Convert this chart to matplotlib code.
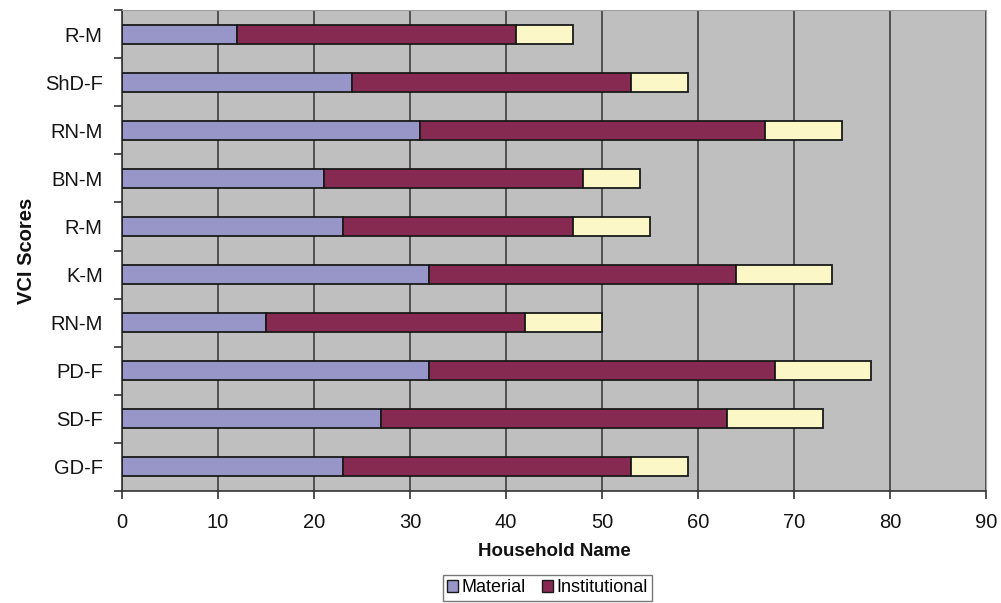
import numpy as np
import matplotlib.pyplot as plt
from matplotlib.patches import Patch

plt.rcParams['font.family'] = ['Liberation Sans', 'DejaVu Sans']

# households, listed from bottom to top as drawn
households = ['GD-F', 'SD-F', 'PD-F', 'RN-M', 'K-M', 'R-M', 'BN-M', 'RN-M', 'ShD-F', 'R-M']
material = [23, 27, 32, 15, 32, 23, 21, 31, 24, 12]
institutional = [30, 36, 36, 27, 32, 24, 27, 36, 29, 29]
third = [6, 10, 10, 8, 10, 8, 6, 8, 6, 6]

c_mat = '#9896c8'
c_inst = '#862a52'
c_third = '#fbf7c6'

fig = plt.figure(figsize=(10.01, 6.03), dpi=100)
ax = fig.add_axes([0.122, 0.186, 0.863, 0.797])
ax.set_facecolor('#bfbfbf')

y = np.arange(len(households))
h = 0.4
ax.barh(y, material, height=h, color=c_mat, edgecolor='#1a1a1a', linewidth=1.3, zorder=3)
ax.barh(y, institutional, left=material, height=h, color=c_inst, edgecolor='#1a1a1a', linewidth=1.3, zorder=3)
left3 = np.array(material) + np.array(institutional)
ax.barh(y, third, left=left3, height=h, color=c_third, edgecolor='#1a1a1a', linewidth=1.3, zorder=3)

ax.set_xlim(0, 90)
ax.set_ylim(-0.5, len(households) - 0.5)
ax.set_xticks(range(0, 91, 10))
ax.xaxis.grid(True, color='#333333', linewidth=1.1, zorder=1)
ax.set_axisbelow(True)

# category labels at bar centres, tick marks at boundaries
ax.set_yticks(y)
ax.set_yticklabels(households)
ax.set_yticks(np.arange(-0.5, len(households), 1), minor=True)
ax.tick_params(axis='y', which='major', length=0, pad=14, labelsize=14.5, labelcolor='#151515')
ax.tick_params(axis='y', which='minor', length=6, width=1.2, color='#333333', direction='out')
ax.tick_params(axis='x', length=6, width=1.2, color='#333333', labelsize=14.5, labelcolor='#151515', pad=10)

for s in ['left', 'bottom']:
    ax.spines[s].set_color('#333333')
    ax.spines[s].set_linewidth(1.2)
for s in ['top', 'right']:
    ax.spines[s].set_color('#a0a0a0')

ax.set_xlabel('Household Name', fontsize=13.5, fontweight='bold', labelpad=8, color='#111111')
ax.set_ylabel('VCI Scores', fontsize=14.5, fontweight='bold', labelpad=6, color='#111111')

handles = [Patch(facecolor=c_mat, edgecolor='#1a1a1a', label='Material'),
           Patch(facecolor=c_inst, edgecolor='#1a1a1a', label='Institutional')]
fig.legend(handles=handles, loc='center', bbox_to_anchor=(0.547, 0.025), ncol=2,
           fontsize=13, frameon=True, fancybox=False, edgecolor='#555555',
           handlelength=0.6, handleheight=0.7, handletextpad=0.2, columnspacing=0.9,
           borderpad=0.25)

fig.savefig('out.png', dpi=100)
